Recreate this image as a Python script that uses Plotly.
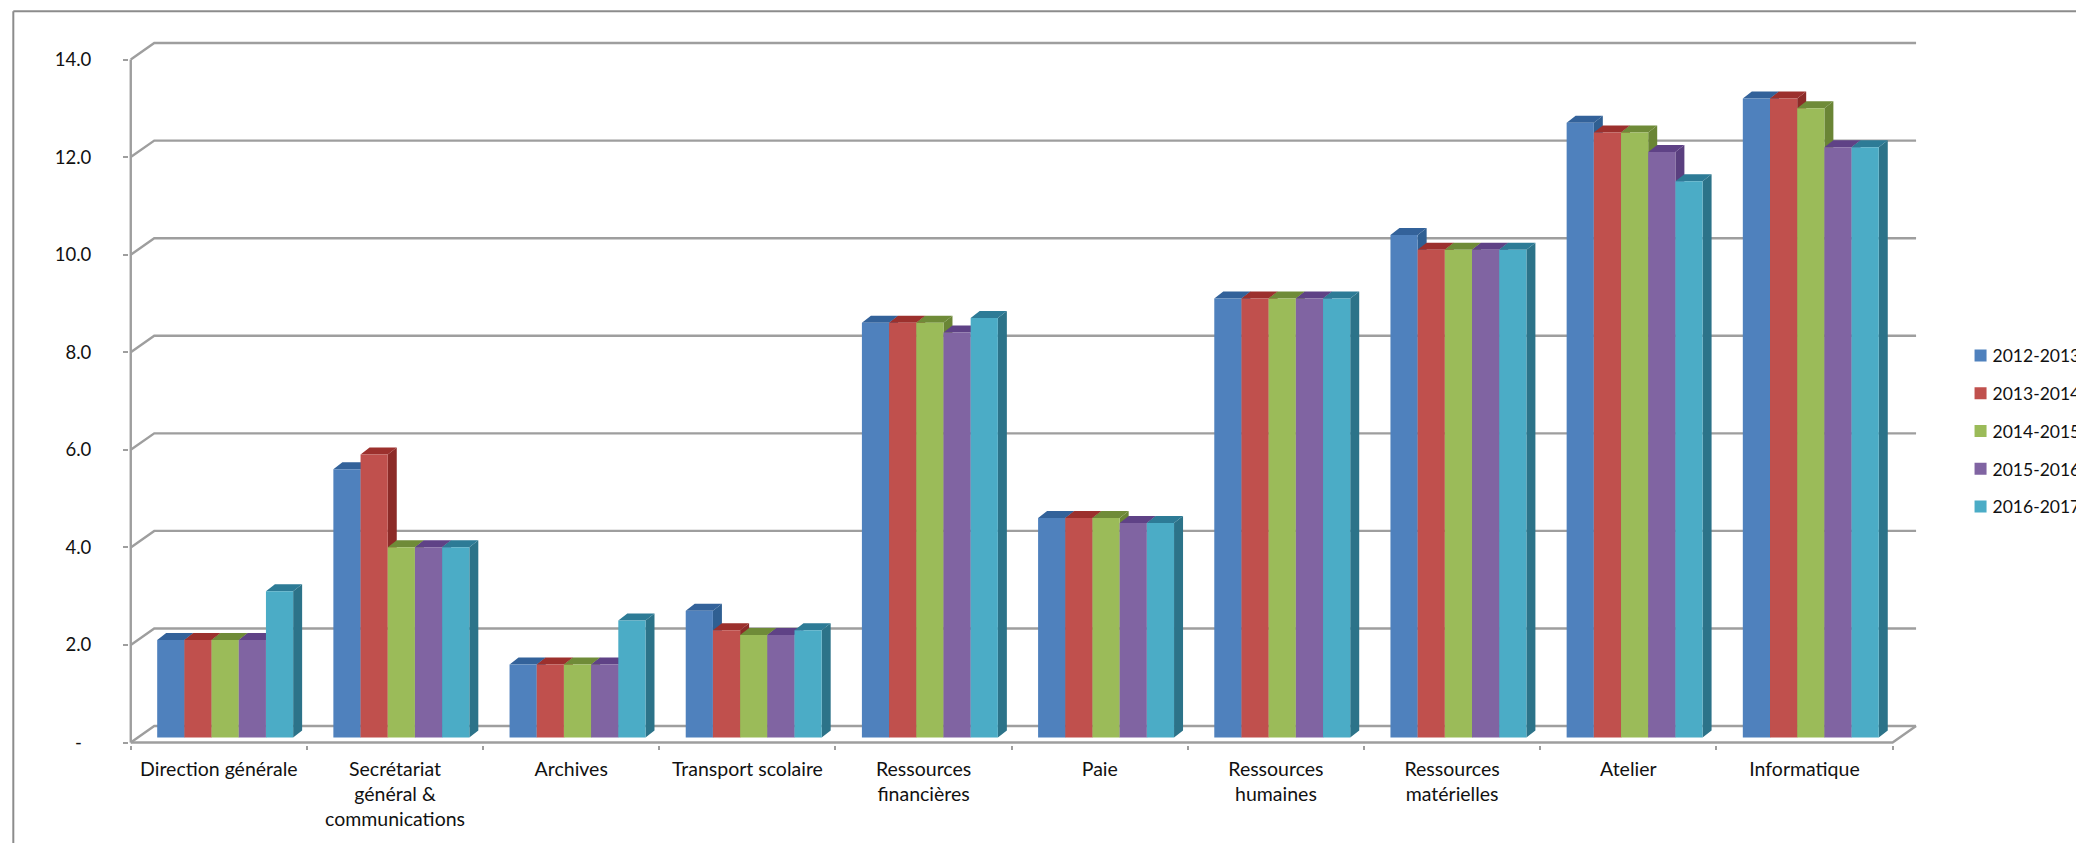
import plotly.graph_objects as go

categories = ["Direction générale", "Secrétariat<br>général &<br>communications", "Archives",
              "Transport scolaire", "Ressources<br>financières", "Paie", "Ressources<br>humaines",
              "Ressources<br>matérielles", "Atelier", "Informatique"]
series_names = ["2012-2013", "2013-2014", "2014-2015", "2015-2016", "2016-2017"]
v2012 = [2.0, 5.5, 1.5, 2.6, 8.5, 4.5, 9.0, 10.3, 12.6, 13.1]
v2013 = [2.0, 5.8, 1.5, 2.2, 8.5, 4.5, 9.0, 10.0, 12.4, 13.1]
v2014 = [2.0, 3.9, 1.5, 2.1, 8.5, 4.5, 9.0, 10.0, 12.4, 12.9]
v2015 = [2.0, 3.9, 1.5, 2.1, 8.3, 4.4, 9.0, 10.0, 12.0, 12.1]
v2016 = [3.0, 3.9, 2.4, 2.2, 8.6, 4.4, 9.0, 10.0, 11.4, 12.1]
series_values = [v2012, v2013, v2014, v2015, v2016]
y_ticks = [0, 2, 4, 6, 8, 10, 12, 14]
y_tick_labels = ["-\u00a0\u00a0", "2.0", "4.0", "6.0", "8.0", "10.0", "12.0", "14.0"]

front_colors = ["#4F81BD", "#C0504D", "#9BBB59", "#8064A2", "#4BACC6"]
side_colors = ["#2F5F92", "#8C2B28", "#6A8535", "#5A3F7F", "#2C7389"]
top_colors = ["#33629A", "#9C302D", "#6F8B38", "#5F4286", "#2D7B96"]

W, H = 2076, 843
PX_X = 176.25   # pixels per category
PX_Y = 48.8     # pixels per value unit
X0_PX, Y0_PX = 130.5, 742.5   # pixel of x=-0.5, value 0
XR = (-0.51, 9.65)
YR = (-0.05, 14.4)
m_l = X0_PX + (XR[0] + 0.5) * PX_X
m_r = W - (X0_PX + (XR[1] + 0.5) * PX_X)
m_b = H - (Y0_PX - YR[0] * PX_Y)
m_t = Y0_PX - YR[1] * PX_Y
plot_w = W - m_l - m_r
plot_h = H - m_t - m_b

WALL_DX, WALL_DY = 23.5 / PX_X, 16.5 / PX_Y
BAR_W = 27.2 / PX_X
GROUP_LEFT = 0.150 - 0.5
DEPTH_DX, DEPTH_DY = 9 / PX_X, 7 / PX_Y
BASE = 5 / PX_Y
GRID = "#9E9E9E"
TXT = "#111111"
FONT = "Lato"

fig = go.Figure()

# walls, floor and axis lines
gx, gy = [], []
for t in y_ticks:
    gx += [-0.5, -0.5 + WALL_DX, 9.5 + WALL_DX, None]
    gy += [t, t + WALL_DY, t + WALL_DY, None]
gx += [-0.5, -0.5, None, -0.5, 9.5, 9.5 + WALL_DX]
gy += [y_ticks[0], y_ticks[-1], None, 0, 0, WALL_DY]
fig.add_trace(go.Scatter(x=gx, y=gy, mode="lines", line=dict(color=GRID, width=2.4),
                         showlegend=False, hoverinfo="skip"))


def faces(values, j):
    sx, sy, tx, ty = [], [], [], []
    for i, v in enumerate(values):
        l = i + GROUP_LEFT + j * BAR_W
        r = l + BAR_W
        top = v + BASE
        sx += [r, r + DEPTH_DX, r + DEPTH_DX, r, r, None]
        sy += [top, top + DEPTH_DY, BASE + DEPTH_DY, BASE, top, None]
        tx += [l, r, r + DEPTH_DX, l + DEPTH_DX, l, None]
        ty += [top, top, top + DEPTH_DY, top + DEPTH_DY, top, None]
    return sx, sy, tx, ty


all_faces = [faces(v, j) for j, v in enumerate(series_values)]
for j, f in enumerate(all_faces):
    fig.add_trace(go.Scatter(x=f[0], y=f[1], mode="lines", fill="toself", fillcolor=side_colors[j],
                             line=dict(width=0), showlegend=False, hoverinfo="skip"))
for j, f in enumerate(all_faces):
    fig.add_trace(go.Scatter(x=f[2], y=f[3], mode="lines", fill="toself", fillcolor=top_colors[j],
                             line=dict(width=0), showlegend=False, hoverinfo="skip"))

# front faces: real bars on an overlaid pair of axes, so they sit above the depth faces
for j, (name, vals) in enumerate(zip(series_names, series_values)):
    fig.add_trace(go.Bar(x=list(range(len(categories))), y=vals, name=name, base=BASE,
                         width=BAR_W, offset=GROUP_LEFT + j * BAR_W, legendgroup=name,
                         marker=dict(color=front_colors[j], line=dict(width=0)),
                         xaxis="x2", yaxis="y2"))

frame_l = (13 - m_l) / plot_w
frame_t = (H - m_b - 11) / plot_h
frame_r = (W + 5 - m_l) / plot_w
frame_b = -(m_b + 5) / plot_h

fig.update_layout(
    width=W, height=H, paper_bgcolor="white", plot_bgcolor="white",
    margin=dict(l=m_l, r=m_r, t=m_t, b=m_b, pad=0, autoexpand=False),
    font=dict(family=FONT, size=19, color=TXT),
    barmode="overlay", showlegend=True,
    xaxis=dict(range=XR, showgrid=False, zeroline=False, showline=False,
               tickmode="array", tickvals=list(range(len(categories))), ticktext=categories,
               ticks="", ticklabelstandoff=10, tickangle=0,
               tickfont=dict(family=FONT, size=19.5, color=TXT),
               minor=dict(tickmode="array", tickvals=[i - 0.5 for i in range(len(categories) + 1)],
                          ticks="outside", ticklen=4, tickwidth=2, tickcolor=GRID, showgrid=False)),
    yaxis=dict(range=YR, showgrid=False, zeroline=False, showline=False,
               tickmode="array", tickvals=y_ticks, ticktext=y_tick_labels,
               ticks="outside", ticklen=5, tickwidth=2, tickcolor=GRID,
               ticklabelstandoff=28, tickfont=dict(family=FONT, size=18.5, color=TXT)),
    xaxis2=dict(range=XR, overlaying="x", visible=False, anchor="y2"),
    yaxis2=dict(range=YR, overlaying="y", visible=False, anchor="x2"),
    legend=dict(x=(1953 - m_l) / plot_w, xanchor="left", y=(H - m_b - 431) / plot_h, yanchor="middle",
                traceorder="grouped", font=dict(family=FONT, size=17.5, color=TXT),
                tracegroupgap=12, itemwidth=30, entrywidth=95, entrywidthmode="pixels",
                bgcolor="rgba(0,0,0,0)", borderwidth=0),
    shapes=[dict(type="line", xref="paper", yref="paper", x0=frame_l, x1=frame_l, y0=frame_b, y1=frame_t,
                 line=dict(color="#8C8C8C", width=2)),
            dict(type="line", xref="paper", yref="paper", x0=frame_l, x1=frame_r, y0=frame_t, y1=frame_t,
                 line=dict(color="#8C8C8C", width=2))],
)

post = ("document.body.style.margin='0';document.body.style.overflow='hidden';"
        "document.querySelectorAll('.legend .traces .legendsymbols').forEach("
        "function(g){g.setAttribute('transform','translate(8,0)');});")
fig.write_html("out.html", config={"displayModeBar": False}, post_script=post)
